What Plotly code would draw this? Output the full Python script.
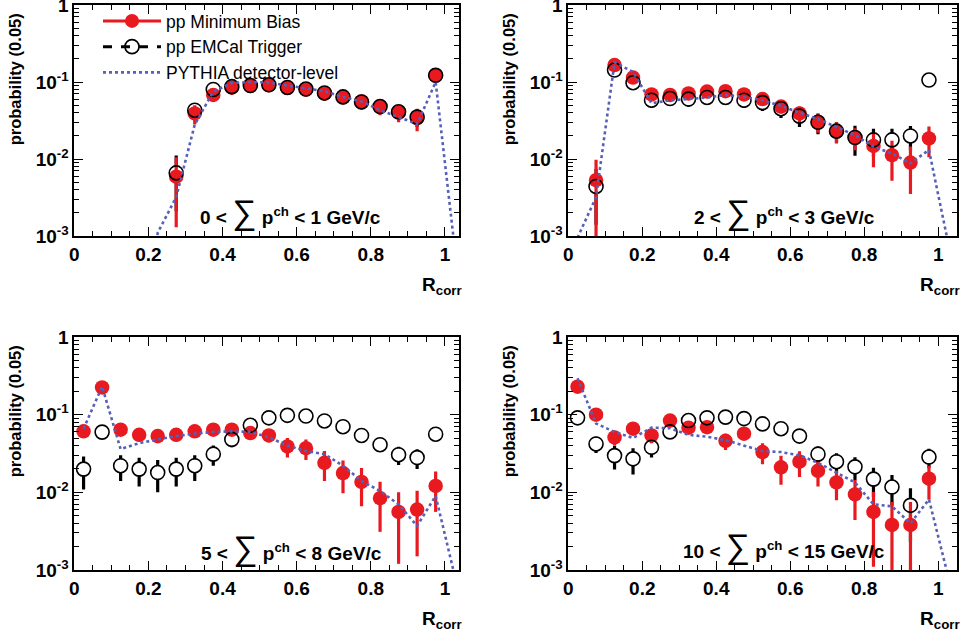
import plotly.graph_objects as go

W, H = 963, 631

# bin centres of R_corr (bin width 0.05)
rcorr = [0.025, 0.075, 0.125, 0.175, 0.225, 0.275, 0.325, 0.375, 0.425, 0.475,
         0.525, 0.575, 0.625, 0.675, 0.725, 0.775, 0.825, 0.875, 0.925, 0.975]
rcorr_pythia = rcorr + [1.025]

# ---- panel 1: 0 < sum p^ch < 1 GeV/c
mb1 = [None, None, None, None, None, 0.0059, 0.039, 0.068, 0.085, 0.089,
       0.091, 0.084, 0.080, 0.071, 0.064, 0.056, 0.048, 0.040, 0.034, 0.122]
mb1_err = [None, None, None, None, None, 0.0046, 0.011, 0.012, 0.016, 0.017,
           0.017, 0.016, 0.015, 0.014, 0.013, 0.012, 0.011, 0.010, 0.011, 0.012]
emc1 = [None, None, None, None, None, 0.0066, 0.043, 0.080, 0.087, 0.090,
        0.092, 0.085, 0.081, 0.072, 0.064, 0.055, 0.048, 0.041, 0.035, 0.122]
emc1_err = [None, None, None, None, None, 0.0045, 0.009, 0.011, 0.014, 0.014,
            0.014, 0.014, 0.013, 0.012, 0.011, 0.010, 0.010, 0.009, 0.009, 0.010]
py1 = [None, None, None, 1e-5, 1.1e-3, 0.0032, 0.028, 0.075, 0.097, 0.100,
       0.099, 0.090, 0.083, 0.076, 0.064, 0.056, 0.043, 0.035, 0.0285, 0.100, 8e-4]

# ---- panel 2: 2 < sum p^ch < 3 GeV/c
mb2 = [None, 0.0053, 0.166, 0.114, 0.069, 0.068, 0.071, 0.075, 0.076, 0.069,
       0.060, 0.048, 0.039, 0.030, 0.023, 0.019, 0.0148, 0.0112, 0.0090, 0.0185]
mb2_err = [None, 0.0045, 0.020, 0.015, 0.012, 0.012, 0.012, 0.012, 0.012, 0.011,
           0.010, 0.009, 0.009, 0.008, 0.007, 0.006, 0.007, 0.006, 0.0055, 0.008]
emc2 = [None, 0.0044, 0.143, 0.098, 0.058, 0.061, 0.060, 0.063, 0.063, 0.058,
        0.054, 0.045, 0.036, 0.030, 0.023, 0.019, 0.0177, 0.0177, 0.0199, 0.106]
emc2_err = [None, 0.0030, 0.015, 0.012, 0.012, 0.012, 0.012, 0.012, 0.012, 0.012,
            0.012, 0.011, 0.010, 0.009, 0.007, 0.008, 0.007, 0.007, 0.007, 0.008]
py2 = [9.5e-4, 0.0032, 0.180, 0.135, 0.053, 0.058, 0.060, 0.063, 0.068, 0.064,
       0.058, 0.049, 0.040, 0.033, 0.026, 0.0204, 0.0145, 0.0118, 0.0088, 0.0131, 9e-4]

# ---- panel 3: 5 < sum p^ch < 8 GeV/c
mb3 = [0.061, 0.224, 0.064, 0.055, 0.053, 0.055, 0.061, 0.064, 0.064, 0.058,
       0.054, 0.039, 0.037, 0.024, 0.0177, 0.0136, 0.0084, 0.0056, 0.0060, 0.0121]
mb3_err = [0.011, 0.020, 0.011, 0.010, 0.010, 0.010, 0.010, 0.010, 0.010, 0.010,
           0.010, 0.011, 0.011, 0.010, 0.008, 0.007, 0.0053, 0.0044, 0.0045, 0.0065]
emc3 = [0.0199, 0.0596, 0.022, 0.0199, 0.018, 0.0199, 0.022, 0.031, 0.048, 0.073,
        0.091, 0.098, 0.096, 0.083, 0.070, 0.054, 0.041, 0.0305, 0.028, 0.056]
emc3_err = [0.009, 0.007, 0.008, 0.008, 0.008, 0.008, 0.008, 0.009, 0.010, 0.010,
            0.008, 0.008, 0.008, 0.008, 0.008, 0.008, 0.008, 0.008, 0.008, 0.008]
py3 = [0.066, 0.230, 0.036, 0.043, 0.048, 0.053, 0.057, 0.060, 0.061, 0.060,
       0.051, 0.040, 0.034, 0.031, 0.022, 0.014, 0.0104, 0.0070, 0.0037, 0.0090, 9e-4]

# ---- panel 4: 10 < sum p^ch < 15 GeV/c
mb4 = [0.229, 0.100, 0.051, 0.066, 0.054, 0.084, 0.068, 0.069, 0.046, 0.057,
       0.033, 0.021, 0.0248, 0.0189, 0.0134, 0.0094, 0.0056, 0.0038, 0.0038, 0.015]
mb4_err = [0.020, 0.012, 0.011, 0.011, 0.011, 0.012, 0.011, 0.011, 0.011, 0.010,
           0.010, 0.0085, 0.009, 0.007, 0.0055, 0.005, 0.0045, 0.0037, 0.0037, 0.007]
emc4 = [0.091, 0.042, 0.0297, 0.027, 0.038, 0.060, 0.084, 0.091, 0.093, 0.089,
        0.076, 0.066, 0.053, 0.031, 0.0248, 0.0213, 0.0148, 0.0117, 0.0068, 0.0285]
emc4_err = [0.008, 0.010, 0.010, 0.010, 0.010, 0.010, 0.008, 0.008, 0.008, 0.008,
            0.008, 0.008, 0.009, 0.008, 0.007, 0.007, 0.006, 0.005, 0.0045, 0.008]
py4 = [0.294, 0.077, 0.060, 0.050, 0.068, 0.067, 0.055, 0.052, 0.047, 0.040,
       0.034, 0.033, 0.030, 0.024, 0.018, 0.0134, 0.0070, 0.0066, 0.0040, 0.0081, 9e-4]

panel_labels = ["0 < ", "2 < ", "5 < ", "10 < "]
panel_labels_end = [" < 1 GeV/c", " < 3 GeV/c", " < 8 GeV/c", " < 15 GeV/c"]

y_tickvals = [1e-3, 1e-2, 1e-1, 1]
y_ticktext = ["10<sup>-3</sup>", "10<sup>-2</sup>", "10<sup>-1</sup>", "1"]
y_minor = [k * 10.0 ** e for e in (-3, -2, -1) for k in range(2, 10)]
x_tickvals = [0, 0.2, 0.4, 0.6, 0.8, 1.0]
x_ticktext = ["0", "0.2", "0.4", "0.6", "0.8", "1"]

RED = "#e8191f"
BLUE = "#5660b8"
FONT = "Liberation Sans, Arial, sans-serif"

panels = [
    (mb1, mb1_err, emc1, emc1_err, py1),
    (mb2, mb2_err, emc2, emc2_err, py2),
    (mb3, mb3_err, emc3, emc3_err, py3),
    (mb4, mb4_err, emc4, emc4_err, py4),
]

# plot-area pixel boxes (left, right, top, bottom) and x range max
boxes = [(74.3, 459.0, 5, 236, 1.038), (568.3, 956.7, 5, 236, 1.05),
         (74.3, 459.0, 337, 570, 1.038), (568.3, 956.7, 337, 570, 1.05)]

fig = go.Figure()
layout = {}
annotations = []
INVIS = dict(size=1, color="rgba(0,0,0,0)")

for i, (mb, mbe, emc, emce, py) in enumerate(panels):
    n = "" if i == 0 else str(i + 1)
    xa, ya = "x" + n, "y" + n
    # EMCal error bars
    fig.add_trace(go.Scatter(
        x=rcorr, y=emc, xaxis=xa, yaxis=ya, mode="markers", showlegend=False,
        marker=INVIS, hoverinfo="skip",
        error_y=dict(type="data", array=emce, color="black", thickness=3.2, width=0)))
    # blank the bar inside the open circle
    fig.add_trace(go.Scatter(
        x=rcorr, y=emc, xaxis=xa, yaxis=ya, mode="markers", showlegend=False,
        marker=dict(symbol="circle", size=13, color="white", line=dict(width=0)),
        hoverinfo="skip"))
    # Minimum bias
    fig.add_trace(go.Scatter(
        x=rcorr, y=mb, xaxis=xa, yaxis=ya, mode="markers", showlegend=False,
        marker=dict(symbol="circle", size=14.5, color=RED, line=dict(width=0)),
        error_y=dict(type="data", array=mbe, color=RED, thickness=3.2, width=0)))
    # EMCal open circles
    fig.add_trace(go.Scatter(
        x=rcorr, y=emc, xaxis=xa, yaxis=ya, mode="markers", showlegend=False,
        marker=dict(symbol="circle-open", size=14, color="black", line=dict(width=1.6, color="black"))))
    # PYTHIA
    fig.add_trace(go.Scatter(
        x=rcorr_pythia, y=py, xaxis=xa, yaxis=ya, mode="lines", showlegend=False,
        line=dict(color=BLUE, width=2.6, dash="dot")))

    L, R, T, B, xmax = boxes[i]
    layout["xaxis" + n] = dict(
        domain=[L / W, R / W], anchor=ya, range=[0, xmax], automargin=False,
        tickmode="array", tickvals=x_tickvals, ticktext=x_ticktext,
        ticks="inside", ticklen=9, tickwidth=1.2, tickcolor="black",
        minor=dict(dtick=0.05, tick0=0, ticks="inside", ticklen=5, tickwidth=1.2, tickcolor="black"),
        showline=True, linewidth=1.6, linecolor="black", mirror="allticks",
        showgrid=False, zeroline=False, ticklabeloverflow="allow",
        tickfont=dict(family=FONT, size=19, color="black", weight="bold"))
    layout["yaxis" + n] = dict(
        domain=[1 - B / H, 1 - T / H], anchor=xa, type="log", range=[-3, 0], automargin=False,
        tickmode="array", tickvals=y_tickvals, ticktext=y_ticktext,
        ticks="inside", ticklen=9, tickwidth=1.2, tickcolor="black",
        minor=dict(tickmode="array", tickvals=y_minor, ticks="inside", ticklen=5,
                   tickwidth=1.2, tickcolor="black"),
        showline=True, linewidth=1.6, linecolor="black", mirror="allticks",
        showgrid=False, zeroline=False, ticklabeloverflow="allow",
        tickfont=dict(family=FONT, size=19, color="black", weight="bold"))

    # y title
    annotations.append(dict(
        text="probability (0.05)", textangle=-90, xref="paper", yref="paper",
        x=(L - 59) / W, y=1 - (T + 74) / H, xanchor="center", yanchor="middle",
        showarrow=False, font=dict(family=FONT, size=16.5, color="black", weight="bold")))
    # x title
    annotations.append(dict(
        text="R<sub>corr</sub>", xref="paper", yref="paper",
        x=(R + 5) / W, y=1 - (B + 50) / H, xanchor="right", yanchor="middle",
        showarrow=False, font=dict(family=FONT, size=19, color="black", weight="bold")))

label_centres = [(290, 212), (784, 212), (291, 548), (784, 546)]
for i, (cx, cy) in enumerate(label_centres):
    annotations.append(dict(
        text=panel_labels[i] + "<span style='font-size:34px;font-weight:normal'>\u2211</span> p<sup>ch</sup>" + panel_labels_end[i],
        xref="paper", yref="paper", x=cx / W, y=1 - cy / H,
        xanchor="center", yanchor="middle", showarrow=False,
        font=dict(family=FONT, size=19, color="black", weight="bold")))

# legend entries
fig.add_trace(go.Scatter(x=[None], y=[None], name="pp Minimum Bias", mode="lines+markers",
                         marker=dict(symbol="circle", size=14, color=RED),
                         line=dict(color=RED, width=3)))
fig.add_trace(go.Scatter(x=[None], y=[None], name="pp EMCal Trigger", mode="lines+markers",
                         marker=dict(symbol="circle-open", size=14, color="black", line=dict(width=1.6)),
                         line=dict(color="black", width=3, dash="dash")))
fig.add_trace(go.Scatter(x=[None], y=[None], name="PYTHIA detector-level", mode="lines",
                         line=dict(color=BLUE, width=2.6, dash="dot")))

fig.update_layout(
    width=W, height=H, margin=dict(l=0, r=0, t=0, b=0),
    paper_bgcolor="white", plot_bgcolor="white",
    annotations=annotations,
    showlegend=True,
    legend=dict(x=98 / W, y=1 - 3 / H, xanchor="left", yanchor="top",
                bgcolor="rgba(0,0,0,0)", itemwidth=58, tracegroupgap=0,
                font=dict(family=FONT, size=17.5, color="black")),
    **layout)

fig.write_html("out.html", config={"displayModeBar": False},
               post_script="document.body.style.margin='0';document.body.style.overflow='hidden';")
